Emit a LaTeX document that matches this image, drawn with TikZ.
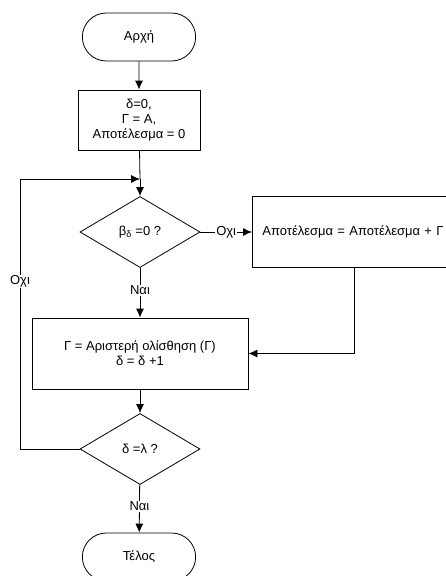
\documentclass[tikz,border=0pt]{standalone}
\usepackage{fontspec}
\setmainfont{Liberation Sans}
\usetikzlibrary{shapes,arrows.meta}

\tikzset{
  terminal/.style={rounded rectangle, draw, minimum width=120pt, minimum height=48pt},
  process/.style={rectangle, draw, align=center},
  decision/.style={diamond, draw, inner sep=0pt, minimum width=120pt, minimum height=71pt},
  line/.style={draw, -{Latex[length=9pt,width=8pt]}}
}

\begin{document}
\begin{tikzpicture}[x=1pt, y=-1pt, line width=0.8pt, font=\fontsize{13}{15}\selectfont]
\useasboundingbox (0,0) rectangle (446,576);
\clip (0,0) rectangle (446,576);
\node[terminal] (start) at (139,37) {Αρχή};
\node[process, minimum width=122pt, minimum height=60pt] (init) at (139,120)
  {δ=0,\\ Γ = Α,\\ Αποτέλεσμα = 0};
\node[decision] (test) at (140,232) {β\textsubscript{δ} =0 ?};
\node[process, text width=190pt, inner xsep=10pt, align=left, minimum height=71pt,
  anchor=west] (add) at (252,232) {Αποτέλεσμα = Αποτέλεσμα + Γ};
\node[process, minimum width=216pt, minimum height=71pt] (shift) at (140,353.5)
  {Γ = Αριστερή ολίσθηση (Γ)\\ δ = δ +1};
\node[decision] (check) at (140,449) {δ =λ ?};
\node[terminal] (stop) at (139,557) {Τέλος};
\coordinate (join) at (140,179);
\coordinate (back) at (20,449);
\coordinate (down) at (354,268);

\path[line] (start) -- (init);
\draw (init) -- (join);
\path[line] (join) -- (test);
\path[line] (test) -- node[fill=white, inner sep=1pt] {Οχι} (add);
\path[line] (test) -- node[fill=white, inner sep=1pt, pos=0.45] {Ναι} (shift);
\path[line] (down) |- (shift.east);
\path[line] (shift) -- (check);
\path[line] (check) -- node[fill=white, inner sep=1pt, pos=0.45] {Ναι} (stop);
\draw (check.west) -- (back) -- node[fill=white, inner sep=1pt, pos=0.62] {Οχι} (back |- join);
\path[line] (back |- join) -- (join);
\end{tikzpicture}
\end{document}
